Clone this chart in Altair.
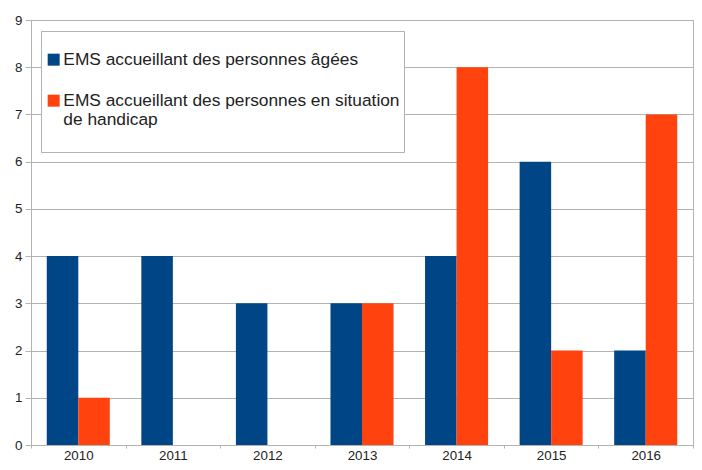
import altair as alt
import pandas as pd

years = ["2010", "2011", "2012", "2013", "2014", "2015", "2016"]
series_names = [
    "EMS accueillant des personnes âgées",
    "EMS accueillant des personnes en situation de handicap",
]
aged = [4, 4, 3, 3, 4, 6, 2]
handicap = [1, 0, 0, 3, 8, 2, 7]
colors = ["#004586", "#ff420e"]
y_ticks = [0, 1, 2, 3, 4, 5, 6, 7, 8, 9]

rows = []
for i, yr in enumerate(years):
    rows.append({"year": yr, "series": series_names[0], "value": aged[i]})
    rows.append({"year": yr, "series": series_names[1], "value": handicap[i]})
df = pd.DataFrame(rows)

FONT = "Liberation Sans"
GRID = "#b3b3b3"

label_expr = (
    "datum.label == '" + series_names[1] + "' ? "
    "['EMS accueillant des personnes en situation', 'de handicap', ''] : datum.label"
)

chart = alt.Chart(df).mark_bar().encode(
    x=alt.X(
        "year:N",
        sort=years,
        scale=alt.Scale(paddingInner=0, paddingOuter=0),
        axis=alt.Axis(
            title=None, labelAngle=0, tickBand="extent", grid=False,
            domainColor=GRID, tickColor=GRID, tickSize=3,
            labelFont=FONT, labelFontSize=13.33, labelColor="#222222", labelPadding=0,
        ),
    ),
    xOffset=alt.XOffset(
        "series:N",
        scale=alt.Scale(domain=series_names, paddingInner=0, paddingOuter=0.5),
    ),
    y=alt.Y(
        "value:Q",
        scale=alt.Scale(domain=[0, 9], nice=False),
        axis=alt.Axis(
            title=None, values=y_ticks, grid=True, gridColor=GRID,
            domainColor=GRID, tickColor=GRID, tickSize=6,
            labelFont=FONT, labelFontSize=13.33, labelColor="#222222", labelPadding=3,
        ),
    ),
    color=alt.Color(
        "series:N",
        scale=alt.Scale(domain=series_names, range=colors),
        legend=alt.Legend(
            title=" ", titleFontSize=8, titlePadding=8,
            orient="none", legendX=10, legendY=11,
            strokeColor=GRID, fillColor="white", padding=4,
            symbolType="square", symbolSize=144, symbolStrokeWidth=0,
            labelFont=FONT, labelFontSize=17.33, labelColor="#222222",
            labelLimit=500, labelOffset=1, rowPadding=23,
            labelExpr=label_expr,
        ),
    ),
).properties(
    width=662, height=425,
    padding={"left": 23, "top": 12, "right": 1, "bottom": 17},
    autosize=alt.AutoSizeParams(type="none"),
).configure_view(stroke=GRID)

chart.save("out.html", embed_options={"renderer": "svg", "actions": False})
